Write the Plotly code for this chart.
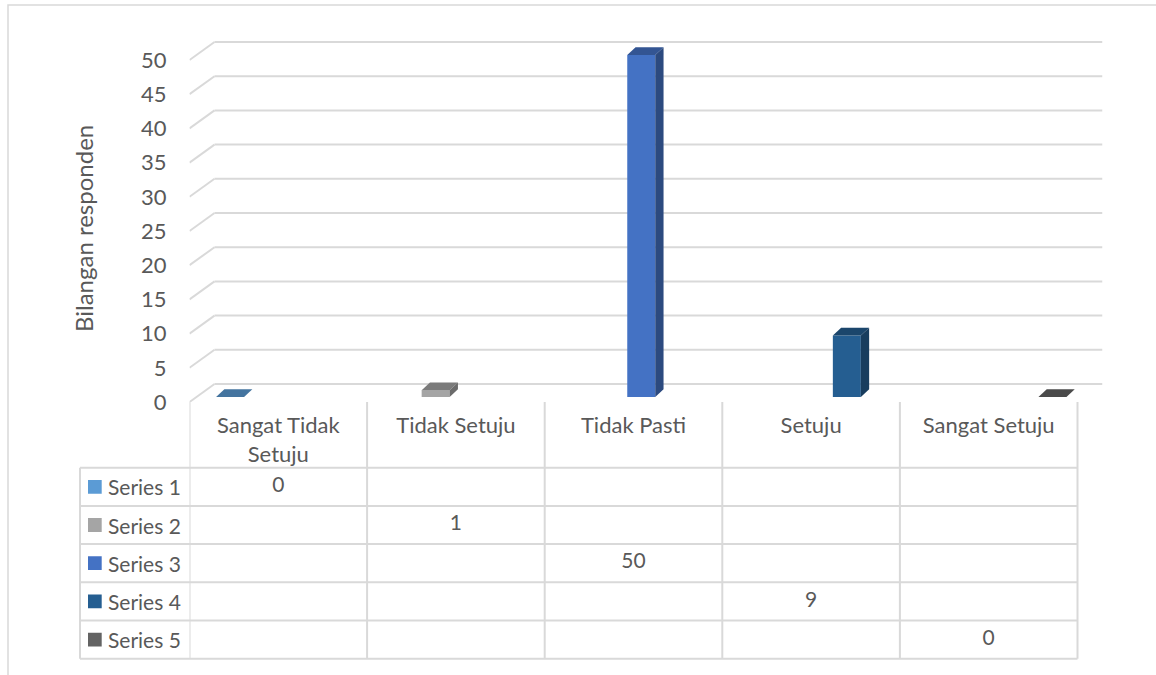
import plotly.graph_objects as go

categories = ["Sangat Tidak Setuju", "Tidak Setuju", "Tidak Pasti", "Setuju", "Sangat Setuju"]
series_names = ["Series 1", "Series 2", "Series 3", "Series 4", "Series 5"]
series_values = [0, 1, 50, 9, 0]   # each series holds one value, in its own category
series_colors = ["#5B9BD5", "#A5A5A5", "#4472C4", "#255E91", "#636363"]
y_ticks = [0, 5, 10, 15, 20, 25, 30, 35, 40, 45, 50]
y_title = "Bilangan responden"

W, H = 1156, 675
FONT = "Lato"
TXT = "#595959"
GRID = "#d9d9d9"


def px(x):
    return x / W


def py(y):
    return 1 - y / H


def shade(hex_color, f):
    r, g, b = (int(hex_color[i:i + 2], 16) for i in (1, 3, 5))
    return "#%02x%02x%02x" % (int(r * f), int(g * f), int(b * f))


# pixel frame of the (front) plot plane
x_left, x_right = 189.5, 1077.5
y_zero, y_top = 402, 20
unit_px = 6.84                      # px per responden
cat_px = (x_right - x_left) / len(categories)
y_max = (y_zero - y_top) / unit_px

# 3d offsets in data units
wall_px = 25
wall_dx, wall_dy = wall_px / cat_px, 18 / unit_px
bar_dx0, bar_dy0 = 7.75 / cat_px, 5 / unit_px
bar_ddx, bar_ddy = 8.3 / cat_px, 7.7 / unit_px
bar_w = 28 / cat_px

# table rows
row_top, row_h = 467.7, 38.2
n_rows = len(series_names)
table_bottom = row_top + row_h * n_rows

fig = go.Figure()
shapes = []

# back wall gridlines + side wall diagonals
for v in y_ticks:
    shapes.append(dict(type="line", xref="x", yref="y", layer="below",
                       x0=-0.5 + wall_dx, x1=len(categories) - 0.5 + wall_dx,
                       y0=v + wall_dy, y1=v + wall_dy,
                       line=dict(color=GRID, width=2)))
    shapes.append(dict(type="line", xref="x", yref="y", layer="below",
                       x0=-0.5 + wall_dx, x1=-0.5, y0=v + wall_dy, y1=v,
                       line=dict(color=GRID, width=2)))

for i, (name, val, col) in enumerate(zip(series_names, series_values, series_colors)):
    off = (i - 2) * bar_w - bar_w / 2 + bar_dx0
    y = [None] * len(categories)
    y[i] = val
    fig.add_trace(go.Bar(
        x=list(range(len(categories))), y=y, base=bar_dy0, offset=off, width=bar_w,
        marker=dict(color=col, line=dict(width=0)), name=name, showlegend=False,
    ))
    xl = i + off
    xr = xl + bar_w
    top = bar_dy0 + val
    # top face
    shapes.append(dict(type="path", xref="x", yref="y", line=dict(width=0),
                       fillcolor=shade(col, 0.75),
                       path=f"M{xl},{top} L{xr},{top} L{xr + bar_ddx},{top + bar_ddy} "
                            f"L{xl + bar_ddx},{top + bar_ddy} Z"))
    # side face
    if val > 0:
        shapes.append(dict(type="path", xref="x", yref="y", line=dict(width=0),
                           fillcolor=shade(col, 0.65),
                           path=f"M{xr},{bar_dy0} L{xr},{top} L{xr + bar_ddx},{top + bar_ddy} "
                                f"L{xr + bar_ddx},{bar_dy0 + bar_ddy} Z"))

# data table: vertical lines at category borders
for k in range(len(categories) + 1):
    shapes.append(dict(type="line", xref="x", yref="paper",
                       x0=k - 0.5, x1=k - 0.5, y0=py(y_zero), y1=py(table_bottom),
                       line=dict(color=GRID, width=2)))
shapes.append(dict(type="line", xref="paper", yref="paper",
                   x0=px(80), x1=px(80), y0=py(row_top), y1=py(table_bottom),
                   line=dict(color=GRID, width=2)))
for r in range(n_rows + 1):
    yy = py(row_top + r * row_h)
    shapes.append(dict(type="line", xref="paper", yref="paper",
                       x0=px(80), x1=px(x_right), y0=yy, y1=yy,
                       line=dict(color=GRID, width=2)))

# legend keys in the table
annotations = []
for i, (name, col) in enumerate(zip(series_names, series_colors)):
    shapes.append(dict(type="rect", xref="paper", yref="y2",
                       x0=px(88), x1=px(101.7), y0=i - 0.18, y1=i + 0.18,
                       fillcolor=col, line=dict(width=0)))
    annotations.append(dict(xref="paper", yref="y2", x=px(106), y=i, text=name,
                            showarrow=False, xanchor="left", yanchor="middle",
                            font=dict(family=FONT, size=21, color=TXT)))

# table values
fig.add_trace(go.Scatter(
    x=list(range(len(categories))), y=list(range(n_rows)),
    text=[str(v) for v in series_values], mode="text", xaxis="x", yaxis="y2",
    textfont=dict(family=FONT, size=21, color=TXT), showlegend=False, hoverinfo="skip",
))

annotations.append(dict(xref="paper", yref="paper", x=px(83), y=py(229), text=y_title,
                        textangle=-90, showarrow=False, xanchor="center", yanchor="middle",
                        font=dict(family=FONT, size=24, color=TXT)))

# chart border
shapes.append(dict(type="rect", xref="paper", yref="paper", layer="below",
                   x0=px(8), x1=px(W + 10), y0=py(5), y1=py(H + 10),
                   line=dict(color=GRID, width=1.5)))

fig.update_layout(
    width=W, height=H, template="none",
    margin=dict(l=0, r=0, t=0, b=0),
    paper_bgcolor="white", plot_bgcolor="rgba(0,0,0,0)",
    barmode="overlay", showlegend=False,
    shapes=shapes, annotations=annotations,
    font=dict(family=FONT, color=TXT),
    xaxis=dict(domain=[px(x_left), px(x_right + wall_px)],
               range=[-0.5, len(categories) - 0.5 + wall_dx],
               tickvals=list(range(len(categories))),
               ticktext=["Sangat Tidak<br>Setuju" if c == "Sangat Tidak Setuju" else c for c in categories],
               showgrid=False, zeroline=False, showline=False, ticks="",
               ticklabelstandoff=8, automargin=False,
               tickfont=dict(family=FONT, size=22, color=TXT)),
    yaxis=dict(domain=[py(y_zero), py(y_top)], range=[0, y_max],
               tickvals=y_ticks, showgrid=False, zeroline=False, showline=False,
               ticks="", ticklabelstandoff=22, automargin=False,
               tickfont=dict(family=FONT, size=22, color=TXT)),
    yaxis2=dict(domain=[py(table_bottom), py(row_top)], range=[n_rows - 0.5, -0.5],
                visible=False, anchor="x"),
)

fig.write_html("out.html", config={"displayModeBar": False},
               post_script="document.body.style.margin='0';")
